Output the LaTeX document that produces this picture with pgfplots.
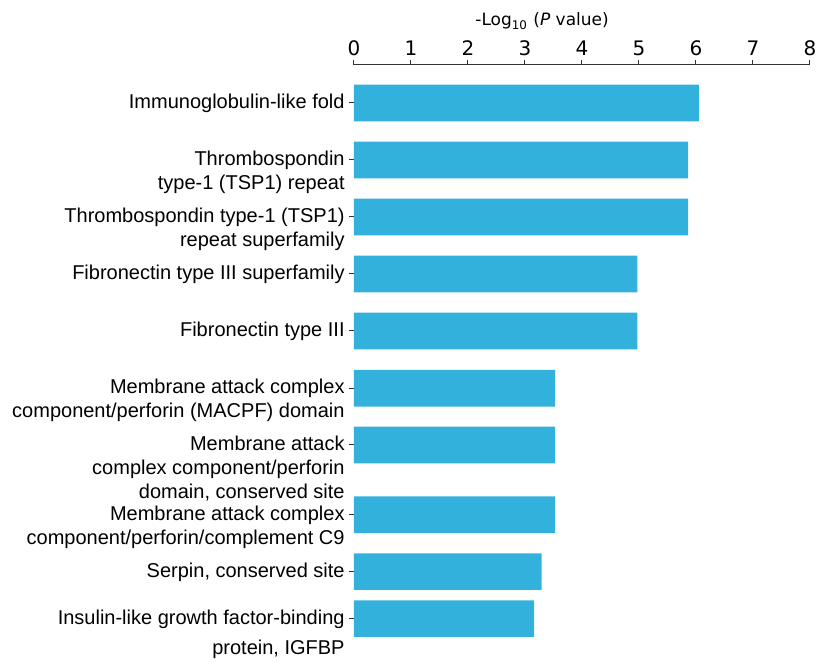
\documentclass[border=0pt]{standalone}
\usepackage{fontspec}
\setmainfont{Liberation Sans}
\newfontfamily\tickfont{DejaVu Sans}
\usepackage{pgfplots}
\pgfplotsset{compat=1.18}
\definecolor{barblue}{RGB}{51,177,221}
\begin{document}
\begin{tikzpicture}
% 1 px of the reference = 0.5pt
\useasboundingbox (-177pt,-8.5pt) rectangle (231.5pt,322.5pt);
\begin{axis}[
    at={(0,0)}, anchor=south west,
    width=228pt, height=290pt, scale only axis,
    xmin=0, xmax=8, ymin=-645, ymax=-65,
    clip=false,
    axis x line*=top, axis y line*=left,
    y axis line style={draw=none},
    x axis line style={-, line width=0.5pt, black!80},
    tick align=outside,
    major tick length=2.5pt,
    tick style={line width=0.5pt, black!80},
    xtick={0,1,...,8},
    /pgf/number format/assume math mode=true,
    xticklabel style={font=\tickfont\fontsize{10}{12}\selectfont, yshift=-1.5pt},
    ytick={-103,-160,-217,-274,-331,-388.3,-445,-514.8,-571.7,-618.7},
    yticklabels={
        Immunoglobulin-like fold,
        Thrombospondin\\type-1 (TSP1) repeat,
        Thrombospondin type-1 (TSP1)\\repeat superfamily,
        Fibronectin type III superfamily,
        Fibronectin type III,
        Membrane attack complex\\component/perforin (MACPF) domain,
        Membrane attack\\complex component/perforin\\domain{,} conserved site,
        Membrane attack complex\\component/perforin/complement C9,
        {Serpin, conserved site},
        Insulin-like growth factor-binding\\[3pt]{protein, IGFBP}
    },
    yticklabel style={font=\fontsize{10}{12}\selectfont, align=right,
        anchor=north east, yshift=4.6pt, inner sep=0pt, xshift=-2pt},
]
\addplot[xbar, fill=barblue, draw=none, bar width=36.6] coordinates {
    (6.05,-103)
    (5.86,-160)
    (5.86,-217)
    (4.97,-274)
    (4.97,-331)
    (3.53,-388.3)
    (3.53,-445)
    (3.53,-514.8)
    (3.29,-571.7)
    (3.16,-618.7)
};
\node[anchor=base, font=\tickfont\fontsize{8.5}{10}\selectfont]
    at (axis cs:3.30,-26) {-Log\textsubscript{10} (\textit{P} value)};
\end{axis}
\end{tikzpicture}
\end{document}
